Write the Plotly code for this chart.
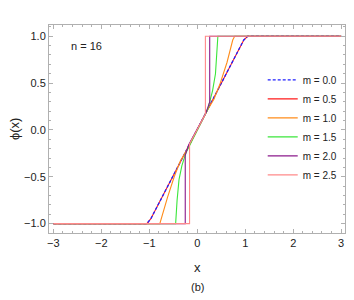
import plotly.graph_objects as go

m_labels = ["m = 0.0", "m = 0.5", "m = 1.0", "m = 1.5", "m = 2.0", "m = 2.5"]
colors = ["#1f1fff", "#ff1a1a", "#ff8c1a", "#3be63b", "#8b1a8b", "#ff8a8a"]

x_m00 = [-3, -1.05, -0.97, 0.0, 0.97, 1.05, 3]
y_m00 = [-1, -1.0, -0.95, 0.0, 0.96, 1.0, 1]
x_m05 = [-3, -1.05, -0.97, 0.0, 0.97, 1.05, 3]
y_m05 = [-1, -1.0, -0.95, 0.0, 0.96, 1.0, 1]
x_m10 = [-3, -0.78, -0.62, -0.48, -0.35, -0.2, 0.2, 0.35, 0.48, 0.62, 0.74, 0.78, 3]
y_m10 = [-1, -1.0, -0.72, -0.5, -0.33, -0.2, 0.2, 0.33, 0.5, 0.72, 0.96, 1.0, 1]
x_m15 = [-3, -0.45, -0.42, -0.38, -0.32, -0.24, 0.22, 0.32, 0.38, 0.43, 3]
y_m15 = [-1, -1.0, -0.75, -0.53, -0.38, -0.25, 0.22, 0.42, 0.6, 1.0, 1]
x_m20 = [-3, -0.25, -0.25, -0.18, 0.18, 0.26, 0.26, 3]
y_m20 = [-1, -1.0, -0.27, -0.16, 0.18, 0.30, 1.0, 1]
x_m25 = [-3, -0.16, -0.16, 0.17, 0.17, 3]
y_m25 = [-1, -1.0, -0.15, 0.17, 1.0, 1]

xs = [x_m00, x_m05, x_m10, x_m15, x_m20, x_m25]
ys = [y_m00, y_m05, y_m10, y_m15, y_m20, y_m25]

x_ticks = [-3, -2, -1, 0, 1, 2, 3]
y_ticks = [-1.0, -0.5, 0.0, 0.5, 1.0]

font = "Liberation Sans, Arial, sans-serif"
fig = go.Figure()
order = [1, 0, 2, 3, 4, 5]
for i in order:
    fig.add_trace(go.Scatter(
        x=xs[i], y=ys[i], mode="lines", name=m_labels[i],
        line=dict(color=colors[i], width=1.1 if i != 0 else 1.3,
                  dash="3px,2px" if i == 0 else "solid"),
        legendrank=i + 1,
    ))

axis_common = dict(
    showgrid=False, zeroline=False, showline=True, linecolor="#b0b0b0",
    linewidth=1, mirror="allticks", ticks="inside", ticklen=4,
    tickcolor="#b0b0b0", tickfont=dict(family=font, size=11, color="#222"),
)
fig.update_xaxes(range=[-3.09, 3.08], tickvals=x_ticks,
                 ticktext=[("\u2212" + str(-v)) if v < 0 else str(v) for v in x_ticks],
                 minor=dict(dtick=0.2, ticklen=2, tickcolor="#b0b0b0", ticks="inside"),
                 ticklabeloverflow="allow",
                 **axis_common)
fig.update_yaxes(range=[-1.1, 1.12], tickvals=y_ticks,
                 ticktext=[("\u2212" + f"{-v:.1f}") if v < 0 else f"{v:.1f}" for v in y_ticks],
                 minor=dict(dtick=0.1, ticklen=2, tickcolor="#b0b0b0", ticks="inside"),
                 **axis_common)

fig.update_layout(
    width=354, height=300,
    margin=dict(l=49, r=9, t=25, b=67, autoexpand=False),
    paper_bgcolor="white", plot_bgcolor="white",
    showlegend=True,
    legend=dict(x=0.722, y=0.806, xanchor="left", yanchor="top",
                bgcolor="rgba(0,0,0,0)", font=dict(family=font, size=10, color="#222"),
                itemwidth=30, tracegroupgap=0),
    annotations=[
        dict(text="n = 16", x=-2.3, y=0.9, xref="x", yref="y", showarrow=False,
             font=dict(family=font, size=11, color="#222")),
        dict(text="x", x=0.5, y=-0.168, xref="paper", yref="paper", showarrow=False,
             xanchor="center", yanchor="middle",
             font=dict(family=font, size=13, color="#222")),
        dict(text="(b)", x=0.5, y=-0.26, xref="paper", yref="paper", showarrow=False,
             xanchor="center", yanchor="middle",
             font=dict(family=font, size=11, color="#222")),
        dict(text="ϕ(x)", x=-0.118, y=0.5, xref="paper", yref="paper", showarrow=False,
             xanchor="center", yanchor="middle",
             textangle=-90, font=dict(family=font, size=13, color="#222")),
    ],
)

fig.write_html("out.html", config={"displayModeBar": False},
               post_script="document.body.style.margin='0';")
